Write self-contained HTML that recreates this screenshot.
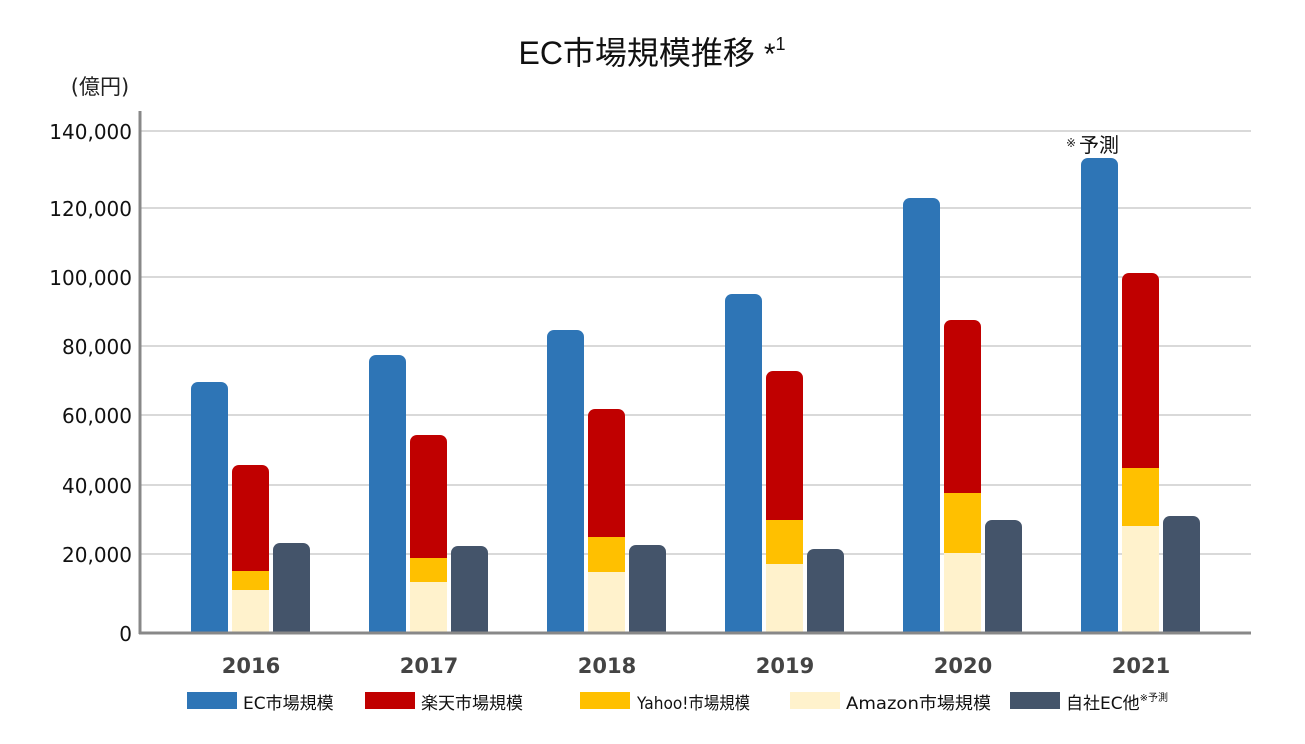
<!DOCTYPE html>
<html><head><meta charset="utf-8"><style>
body{margin:0;background:#fff}
text{font-family:"DejaVu Sans","Noto Sans CJK JP",sans-serif}
</style></head><body>
<svg width="1305" height="739" xmlns="http://www.w3.org/2000/svg">
<text x="652" y="64" text-anchor="middle" font-size="32" fill="#111" style="font-family:'Liberation Sans','Noto Sans CJK JP',sans-serif">EC市場規模推移 <tspan font-size="30">*</tspan><tspan font-size="18" dy="-14">1</tspan></text>
<text x="100" y="94" text-anchor="middle" font-size="21" fill="#222">(億円)</text>
<g stroke="#d9d9d9" stroke-width="2">
<line x1="141" x2="1251" y1="131" y2="131"/><line x1="141" x2="1251" y1="208" y2="208"/>
<line x1="141" x2="1251" y1="277" y2="277"/><line x1="141" x2="1251" y1="346" y2="346"/>
<line x1="141" x2="1251" y1="415" y2="415"/><line x1="141" x2="1251" y1="485" y2="485"/>
<line x1="141" x2="1251" y1="554" y2="554"/>
</g>
<g font-size="20" fill="#111" text-anchor="end">
<text x="132" y="139">140,000</text><text x="132" y="216">120,000</text>
<text x="132" y="285">100,000</text><text x="132" y="354">80,000</text>
<text x="132" y="423">60,000</text><text x="132" y="493">40,000</text>
<text x="132" y="562">20,000</text><text x="132" y="641">0</text>
</g>
<g fill="#2e75b6">
<rect x="191" y="382" width="37" height="251" rx="7"/><rect x="191" y="392" width="37" height="241"/>
<rect x="369" y="355" width="37" height="278" rx="7"/><rect x="369" y="365" width="37" height="268"/>
<rect x="547" y="330" width="37" height="303" rx="7"/><rect x="547" y="340" width="37" height="293"/>
<rect x="725" y="294" width="37" height="339" rx="7"/><rect x="725" y="304" width="37" height="329"/>
<rect x="903" y="198" width="37" height="435" rx="7"/><rect x="903" y="208" width="37" height="425"/>
<rect x="1081" y="158" width="37" height="475" rx="7"/><rect x="1081" y="168" width="37" height="465"/>
</g>
<g fill="#c00000">
<rect x="232" y="465" width="37" height="106" rx="7"/><rect x="232" y="475" width="37" height="96"/>
<rect x="410" y="435" width="37" height="123" rx="7"/><rect x="410" y="445" width="37" height="113"/>
<rect x="588" y="409" width="37" height="128" rx="7"/><rect x="588" y="419" width="37" height="118"/>
<rect x="766" y="371" width="37" height="149" rx="7"/><rect x="766" y="381" width="37" height="139"/>
<rect x="944" y="320" width="37" height="173" rx="7"/><rect x="944" y="330" width="37" height="163"/>
<rect x="1122" y="273" width="37" height="195" rx="7"/><rect x="1122" y="283" width="37" height="185"/>
</g>
<g fill="#ffc000">
<rect x="232" y="571" width="37" height="19"/>
<rect x="410" y="558" width="37" height="24"/>
<rect x="588" y="537" width="37" height="35"/>
<rect x="766" y="520" width="37" height="44"/>
<rect x="944" y="493" width="37" height="60"/>
<rect x="1122" y="468" width="37" height="58"/>
</g>
<g fill="#fff2cc">
<rect x="232" y="590" width="37" height="43"/>
<rect x="410" y="582" width="37" height="51"/>
<rect x="588" y="572" width="37" height="61"/>
<rect x="766" y="564" width="37" height="69"/>
<rect x="944" y="553" width="37" height="80"/>
<rect x="1122" y="526" width="37" height="107"/>
</g>
<g fill="#44546a">
<rect x="273" y="543" width="37" height="90" rx="7"/><rect x="273" y="553" width="37" height="80"/>
<rect x="451" y="546" width="37" height="87" rx="7"/><rect x="451" y="556" width="37" height="77"/>
<rect x="629" y="545" width="37" height="88" rx="7"/><rect x="629" y="555" width="37" height="78"/>
<rect x="807" y="549" width="37" height="84" rx="7"/><rect x="807" y="559" width="37" height="74"/>
<rect x="985" y="520" width="37" height="113" rx="7"/><rect x="985" y="530" width="37" height="103"/>
<rect x="1163" y="516" width="37" height="117" rx="7"/><rect x="1163" y="526" width="37" height="107"/>
</g>
<line x1="140" y1="111" x2="140" y2="634" stroke="#888" stroke-width="3"/>
<line x1="139" y1="633" x2="1251" y2="633" stroke="#888" stroke-width="3"/>
<text x="1066" y="147" font-size="12" fill="#222">※</text>
<text x="1079" y="152" font-size="20" fill="#111">予測</text>
<g font-size="21" font-weight="bold" fill="#444" text-anchor="middle">
<text x="251" y="673">2016</text><text x="429" y="673">2017</text><text x="607" y="673">2018</text>
<text x="785" y="673">2019</text><text x="963" y="673">2020</text><text x="1141" y="673">2021</text>
</g>
<g font-size="17" fill="#111">
<rect x="187" y="692" width="50" height="17" fill="#2e75b6"/><text x="243" y="709">EC市場規模</text>
<rect x="365" y="692" width="50" height="17" fill="#c00000"/><text x="421" y="709">楽天市場規模</text>
<rect x="580" y="692" width="50" height="17" fill="#ffc000"/><text x="637" y="709" textLength="113" lengthAdjust="spacingAndGlyphs">Yahoo!市場規模</text>
<rect x="790" y="692" width="50" height="17" fill="#fff2cc"/><text x="846" y="709" textLength="145" lengthAdjust="spacingAndGlyphs">Amazon市場規模</text>
<rect x="1010" y="692" width="50" height="17" fill="#44546a"/><text x="1066" y="709">自社EC他<tspan font-size="10" dy="-8">※予測</tspan></text>
</g>
</svg>
</body></html>
